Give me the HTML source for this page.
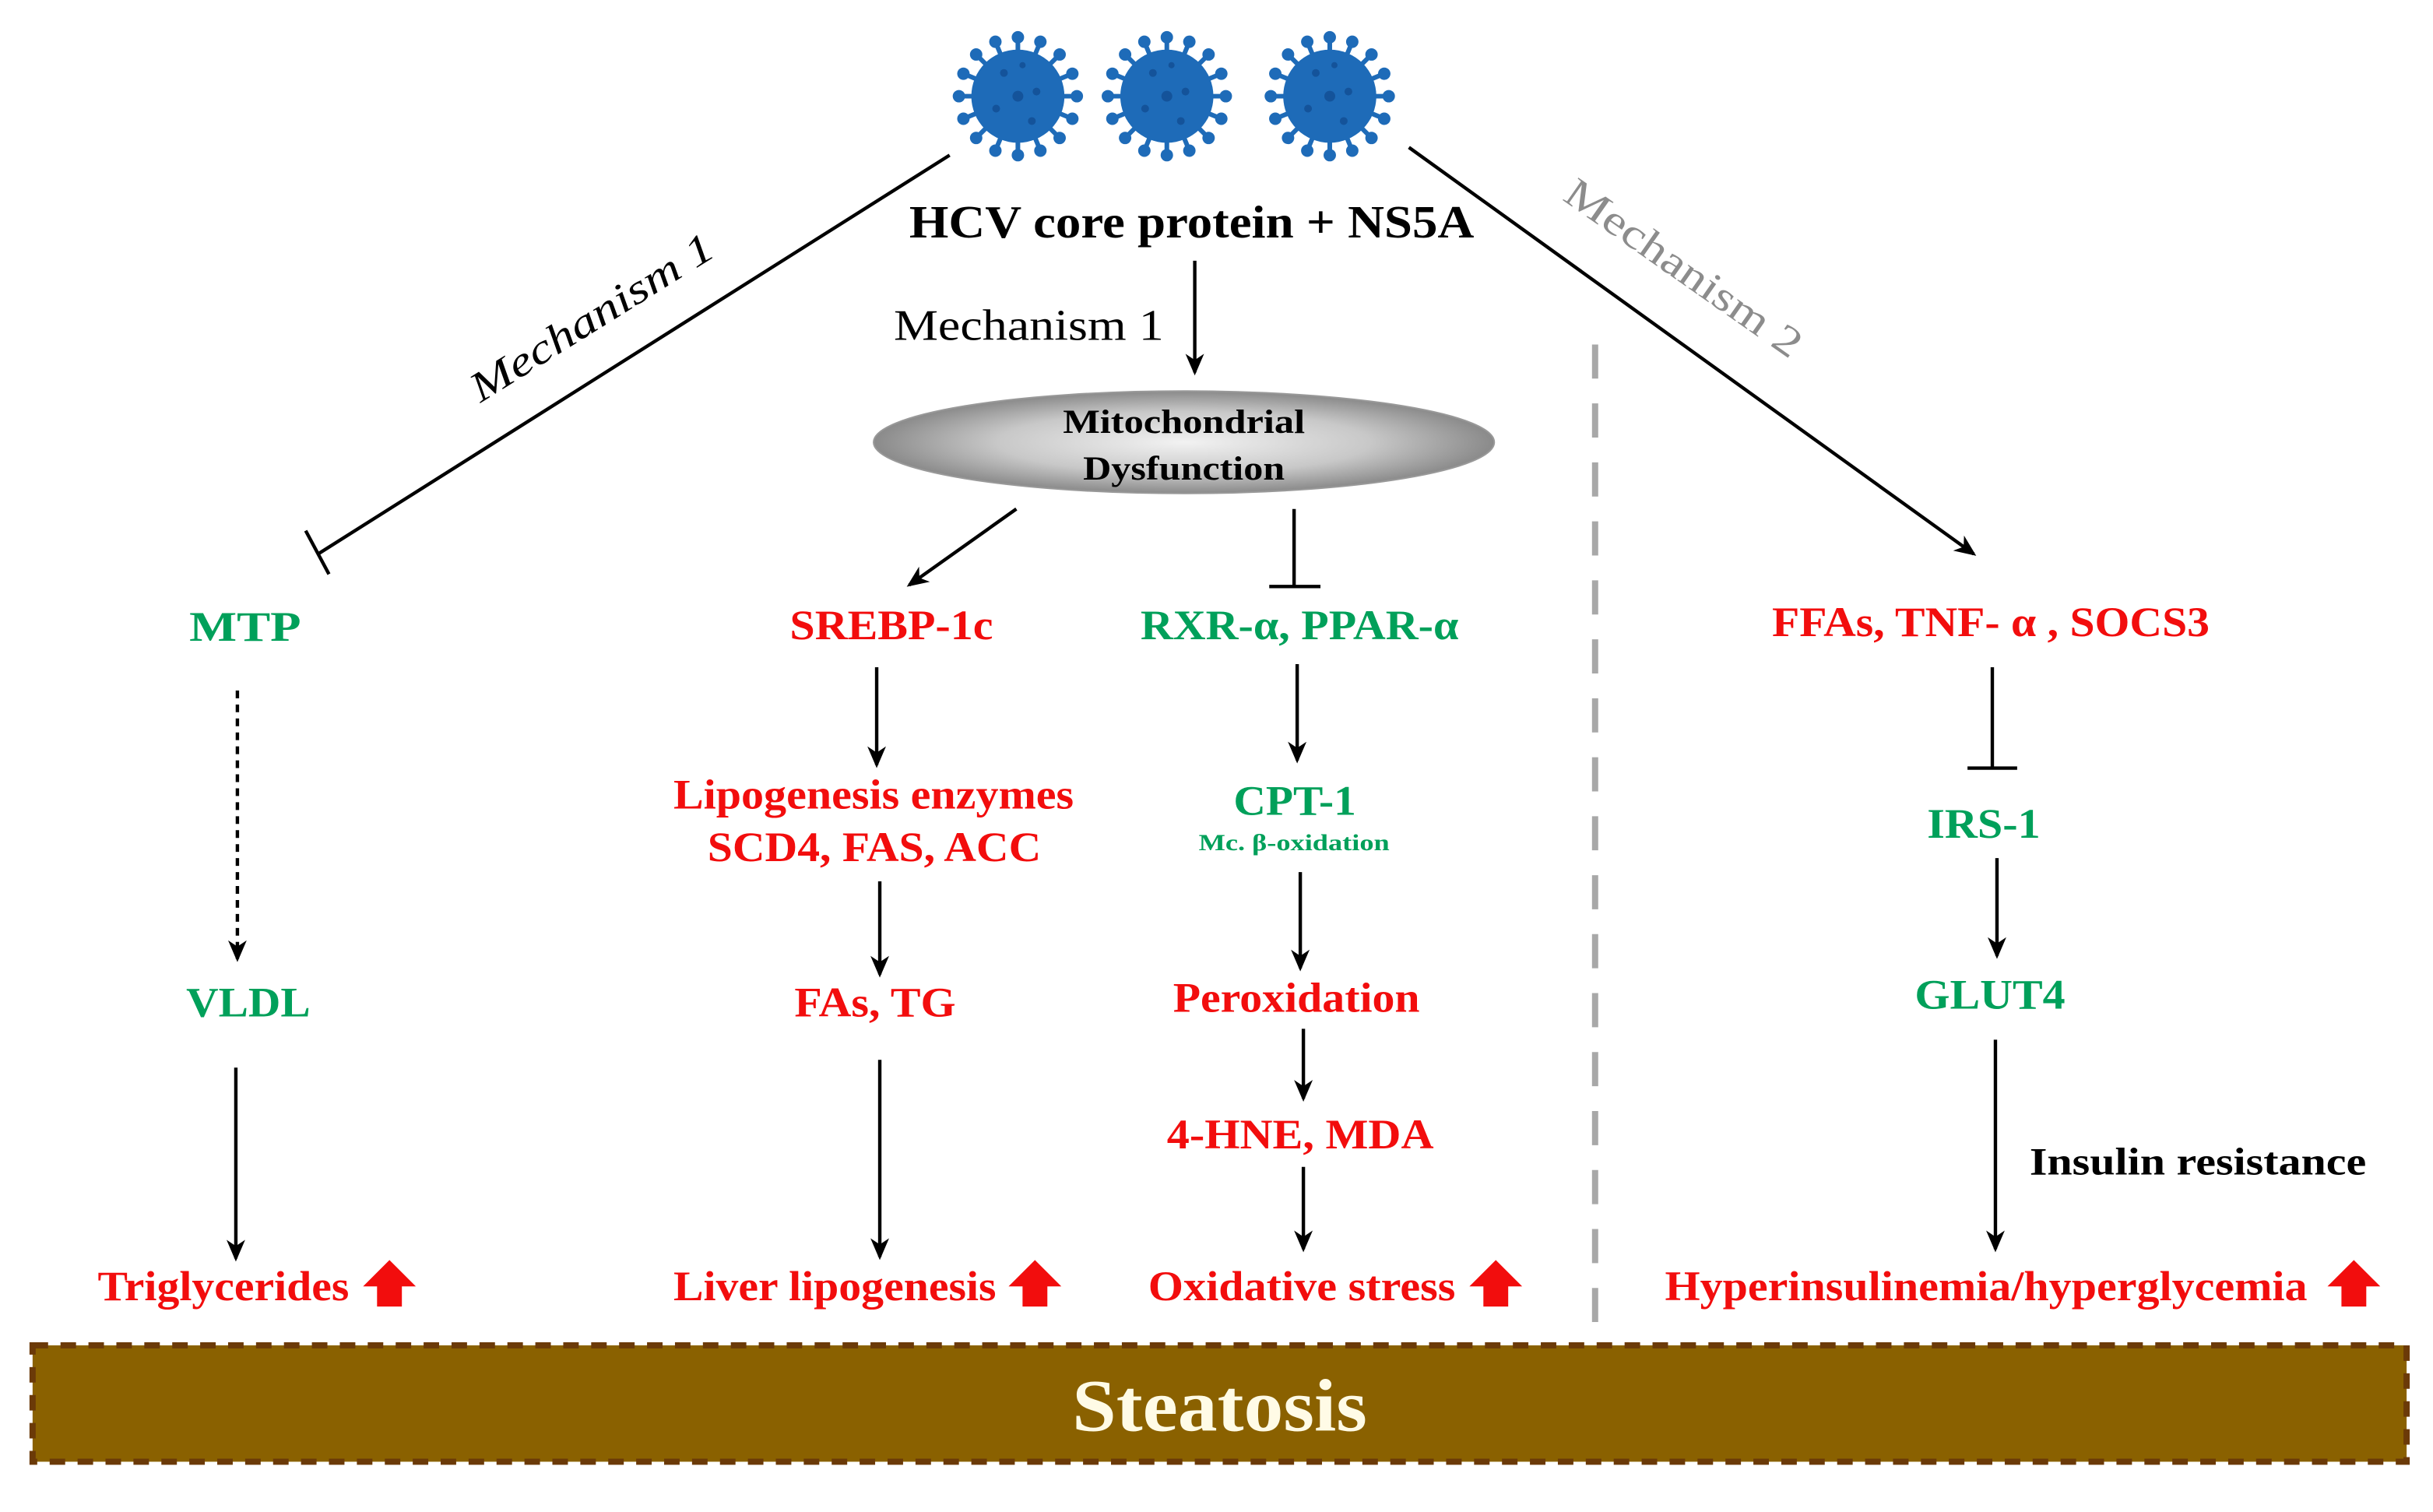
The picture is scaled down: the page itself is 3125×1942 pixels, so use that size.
<!DOCTYPE html>
<html><head><meta charset="utf-8"><style>
html,body{margin:0;padding:0;background:#fff}
svg{display:block}
text{font-family:"Liberation Serif",serif;font-weight:bold}
.r{fill:#f20d0d}.g{fill:#00a05a}
</style></head><body>
<svg width="3125" height="1942" viewBox="0 0 1568 974.4" preserveAspectRatio="none" xmlns="http://www.w3.org/2000/svg">
<defs>
<marker id="ah" markerWidth="14" markerHeight="12" refX="12" refY="6" orient="auto" markerUnits="userSpaceOnUse">
<path d="M0,0 L14,6 L0,12 L4,6 z" fill="#000"/>
</marker>
<radialGradient id="eg" cx="50%" cy="50%" r="50%">
<stop offset="0" stop-color="#f2f2f2"/><stop offset="0.6" stop-color="#c8c8c8"/><stop offset="1" stop-color="#8a8a8a"/>
</radialGradient>
<g id="virus">
<g stroke="#1e6bb8" stroke-width="3">
<line x1="0" y1="0" x2="0" y2="-38"/><line x1="0" y1="0" x2="0" y2="38"/><line x1="0" y1="0" x2="38" y2="0"/><line x1="0" y1="0" x2="-38" y2="0"/>
<line x1="0" y1="0" x2="26.9" y2="26.9"/><line x1="0" y1="0" x2="-26.9" y2="26.9"/><line x1="0" y1="0" x2="26.9" y2="-26.9"/><line x1="0" y1="0" x2="-26.9" y2="-26.9"/>
<line x1="0" y1="0" x2="14.5" y2="35.1"/><line x1="0" y1="0" x2="-14.5" y2="35.1"/><line x1="0" y1="0" x2="14.5" y2="-35.1"/><line x1="0" y1="0" x2="-14.5" y2="-35.1"/>
<line x1="0" y1="0" x2="35.1" y2="14.5"/><line x1="0" y1="0" x2="-35.1" y2="14.5"/><line x1="0" y1="0" x2="35.1" y2="-14.5"/><line x1="0" y1="0" x2="-35.1" y2="-14.5"/>
</g>
<g fill="#1e6bb8">
<circle cx="0" cy="-38" r="4"/><circle cx="0" cy="38" r="4"/><circle cx="38" cy="0" r="4"/><circle cx="-38" cy="0" r="4"/>
<circle cx="26.9" cy="26.9" r="4"/><circle cx="-26.9" cy="26.9" r="4"/><circle cx="26.9" cy="-26.9" r="4"/><circle cx="-26.9" cy="-26.9" r="4"/>
<circle cx="14.5" cy="35.1" r="4"/><circle cx="-14.5" cy="35.1" r="4"/><circle cx="14.5" cy="-35.1" r="4"/><circle cx="-14.5" cy="-35.1" r="4"/>
<circle cx="35.1" cy="14.5" r="4"/><circle cx="-35.1" cy="14.5" r="4"/><circle cx="35.1" cy="-14.5" r="4"/><circle cx="-35.1" cy="-14.5" r="4"/>
<circle r="30"/>
</g>
<g fill="#14539a"><circle r="3.5"/><circle cx="-9" cy="-15" r="2.5"/><circle cx="12" cy="-3" r="2.5"/><circle cx="-14" cy="8" r="2.5"/><circle cx="9" cy="16" r="2.5"/><circle cx="3" cy="-20" r="2"/></g>
</g>
</defs>

<use href="#virus" x="656" y="62"/>
<use href="#virus" x="752" y="62"/>
<use href="#virus" x="857" y="62"/>

<text x="768" y="153" font-size="30" text-anchor="middle" textLength="364" lengthAdjust="spacingAndGlyphs">HCV core protein + NS5A</text>
<text x="576" y="219" font-size="28" style="font-weight:normal" textLength="174" lengthAdjust="spacingAndGlyphs">Mechanism 1</text>

<g stroke="#000" stroke-width="2.2" fill="none">
<line x1="770" y1="168" x2="770" y2="240" marker-end="url(#ah)"/>
<line x1="612" y1="100" x2="205" y2="357"/>
<line x1="197" y1="342" x2="212" y2="370"/>
<line x1="908" y1="95" x2="1272" y2="357" marker-end="url(#ah)"/>
<line x1="655" y1="328" x2="586" y2="377" marker-end="url(#ah)"/>
<line x1="834" y1="328" x2="834" y2="378"/><line x1="818" y1="378" x2="851" y2="378"/>
<line x1="153" y1="445" x2="153" y2="618" stroke-dasharray="5,4" marker-end="url(#ah)"/>
<line x1="152" y1="688" x2="152" y2="811" marker-end="url(#ah)"/>
<line x1="565" y1="430" x2="565" y2="493" marker-end="url(#ah)"/>
<line x1="567" y1="568" x2="567" y2="628" marker-end="url(#ah)"/>
<line x1="567" y1="683" x2="567" y2="810" marker-end="url(#ah)"/>
<line x1="836" y1="428" x2="836" y2="490" marker-end="url(#ah)"/>
<line x1="838" y1="562" x2="838" y2="624" marker-end="url(#ah)"/>
<line x1="840" y1="663" x2="840" y2="708" marker-end="url(#ah)"/>
<line x1="840" y1="752" x2="840" y2="805" marker-end="url(#ah)"/>
<line x1="1284" y1="430" x2="1284" y2="495"/><line x1="1268" y1="495" x2="1300" y2="495"/>
<line x1="1287" y1="553" x2="1287" y2="616" marker-end="url(#ah)"/>
<line x1="1286" y1="670" x2="1286" y2="805" marker-end="url(#ah)"/>
</g>
<line x1="1028" y1="222" x2="1028" y2="856" stroke="#a8a8a8" stroke-width="4" stroke-dasharray="22,16"/>

<text transform="translate(386,212) rotate(-32)" font-size="27" text-anchor="middle" style="font-weight:normal;font-style:italic" textLength="180" lengthAdjust="spacingAndGlyphs">Mechanism 1</text>
<text transform="translate(1080,180) rotate(35)" font-size="27" text-anchor="middle" fill="#8c8c8c" style="font-weight:normal" textLength="180" lengthAdjust="spacingAndGlyphs">Mechanism 2</text>

<ellipse cx="763" cy="285" rx="200" ry="33" fill="url(#eg)" stroke="#999" stroke-width="1"/>
<text x="763" y="279" font-size="22" text-anchor="middle" textLength="156" lengthAdjust="spacingAndGlyphs">Mitochondrial</text>
<text x="763" y="309" font-size="22" text-anchor="middle" textLength="130" lengthAdjust="spacingAndGlyphs">Dysfunction</text>

<g font-size="27">
<text class="g" x="122" y="413" textLength="72" lengthAdjust="spacingAndGlyphs">MTP</text>
<text class="r" x="509" y="412" textLength="131" lengthAdjust="spacingAndGlyphs">SREBP-1c</text>
<text class="g" x="735" y="412" textLength="205" lengthAdjust="spacingAndGlyphs">RXR-α, PPAR-α</text>
<text class="r" x="1142" y="410" textLength="282" lengthAdjust="spacingAndGlyphs">FFAs, TNF- α , SOCS3</text>
<text class="r" x="434" y="521" textLength="258" lengthAdjust="spacingAndGlyphs">Lipogenesis enzymes</text>
<text class="r" x="456" y="555" textLength="215" lengthAdjust="spacingAndGlyphs">SCD4, FAS, ACC</text>
<text class="g" x="795" y="525" textLength="79" lengthAdjust="spacingAndGlyphs">CPT-1</text>
<text class="g" x="1242" y="540" textLength="73" lengthAdjust="spacingAndGlyphs">IRS-1</text>
<text class="g" x="120" y="655" textLength="80" lengthAdjust="spacingAndGlyphs">VLDL</text>
<text class="r" x="512" y="655" textLength="104" lengthAdjust="spacingAndGlyphs">FAs, TG</text>
<text class="r" x="756" y="652" textLength="159" lengthAdjust="spacingAndGlyphs">Peroxidation</text>
<text class="g" x="1234" y="650" textLength="97" lengthAdjust="spacingAndGlyphs">GLUT4</text>
<text class="r" x="752" y="740" textLength="172" lengthAdjust="spacingAndGlyphs">4-HNE, MDA</text>
<text x="1308" y="757" font-size="25" textLength="217" lengthAdjust="spacingAndGlyphs">Insulin resistance</text>
<text class="r" x="63" y="838" textLength="162" lengthAdjust="spacingAndGlyphs">Triglycerides</text>
<text class="r" x="434" y="838" textLength="208" lengthAdjust="spacingAndGlyphs">Liver lipogenesis</text>
<text class="r" x="740" y="838" textLength="198" lengthAdjust="spacingAndGlyphs">Oxidative stress</text>
<text class="r" x="1073" y="838" textLength="414" lengthAdjust="spacingAndGlyphs">Hyperinsulinemia/hyperglycemia</text>
</g>
<text class="g" x="834" y="548" font-size="15" text-anchor="middle" textLength="123" lengthAdjust="spacingAndGlyphs">Mc. β-oxidation</text>

<g fill="#f20d0d">
<path d="M251,812 L268,829 L259,829 L259,842 L243,842 L243,829 L234,829 z"/>
<path d="M667,812 L684,829 L675,829 L675,842 L659,842 L659,829 L650,829 z"/>
<path d="M964,812 L981,829 L972,829 L972,842 L956,842 L956,829 L947,829 z"/>
<path d="M1517,812 L1534,829 L1525,829 L1525,842 L1509,842 L1509,829 L1500,829 z"/>
</g>

<rect x="21" y="867" width="1530" height="75" fill="#8a6100" stroke="#6b3a08" stroke-width="4" stroke-dasharray="10,8"/>
<text x="786" y="922" font-size="48" text-anchor="middle" fill="#fffbe6" textLength="190" lengthAdjust="spacingAndGlyphs">Steatosis</text>
</svg>
</body></html>
